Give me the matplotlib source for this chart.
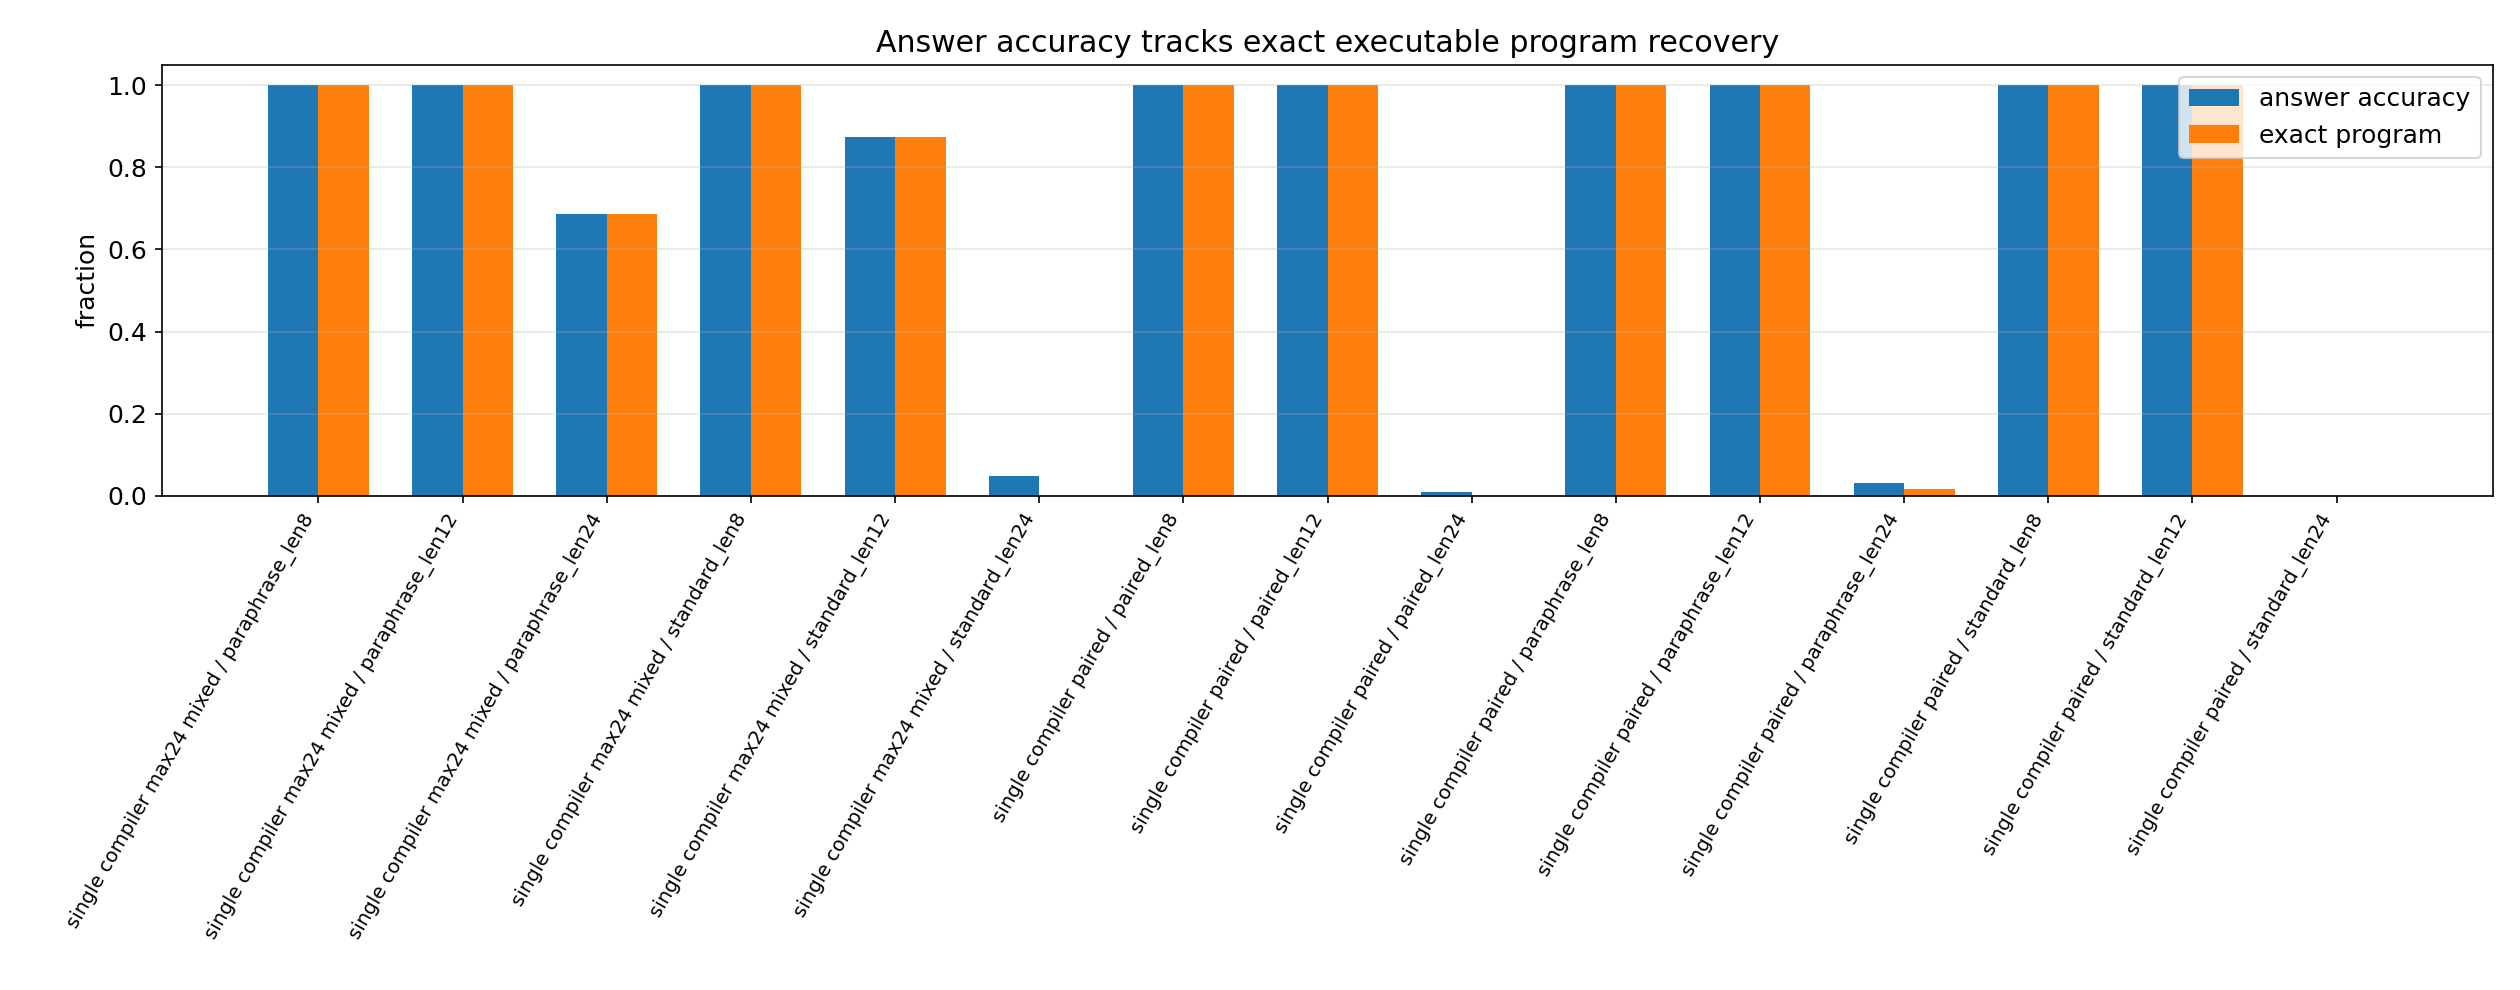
import numpy as np
import matplotlib
matplotlib.use("Agg")
import matplotlib.pyplot as plt

plt.rcParams["font.size"] = 12

labels = [
    "single compiler max24 mixed / paraphrase_len8",
    "single compiler max24 mixed / paraphrase_len12",
    "single compiler max24 mixed / paraphrase_len24",
    "single compiler max24 mixed / standard_len8",
    "single compiler max24 mixed / standard_len12",
    "single compiler max24 mixed / standard_len24",
    "single compiler paired / paired_len8",
    "single compiler paired / paired_len12",
    "single compiler paired / paired_len24",
    "single compiler paired / paraphrase_len8",
    "single compiler paired / paraphrase_len12",
    "single compiler paired / paraphrase_len24",
    "single compiler paired / standard_len8",
    "single compiler paired / standard_len12",
    "single compiler paired / standard_len24",
]
answer_accuracy = [1.0, 1.0, 0.6875, 1.0, 0.875, 0.047, 1.0, 1.0, 0.0078,
                   1.0, 1.0, 0.031, 1.0, 1.0, 0.0]
exact_program = [1.0, 1.0, 0.6875, 1.0, 0.875, 0.0, 1.0, 1.0, 0.0,
                 1.0, 1.0, 0.0156, 1.0, 1.0, 0.0]

x = np.arange(len(labels))
width = 0.35

fig, ax = plt.subplots(figsize=(16.8, 6.6), dpi=150)
ax.bar(x - width / 2, answer_accuracy, width, label="answer accuracy")
ax.bar(x + width / 2, exact_program, width, label="exact program")
ax.set_xticks(x)
ax.set_xticklabels(labels, rotation=60, ha="right", fontsize=9.5)
ax.set_ylabel("fraction")
ax.set_title("Answer accuracy tracks exact executable program recovery")
ax.grid(axis="y", alpha=0.3)
ax.legend()
fig.subplots_adjust(left=0.0643, right=0.9893, top=0.9346, bottom=0.4993)
fig.savefig("out.png")
